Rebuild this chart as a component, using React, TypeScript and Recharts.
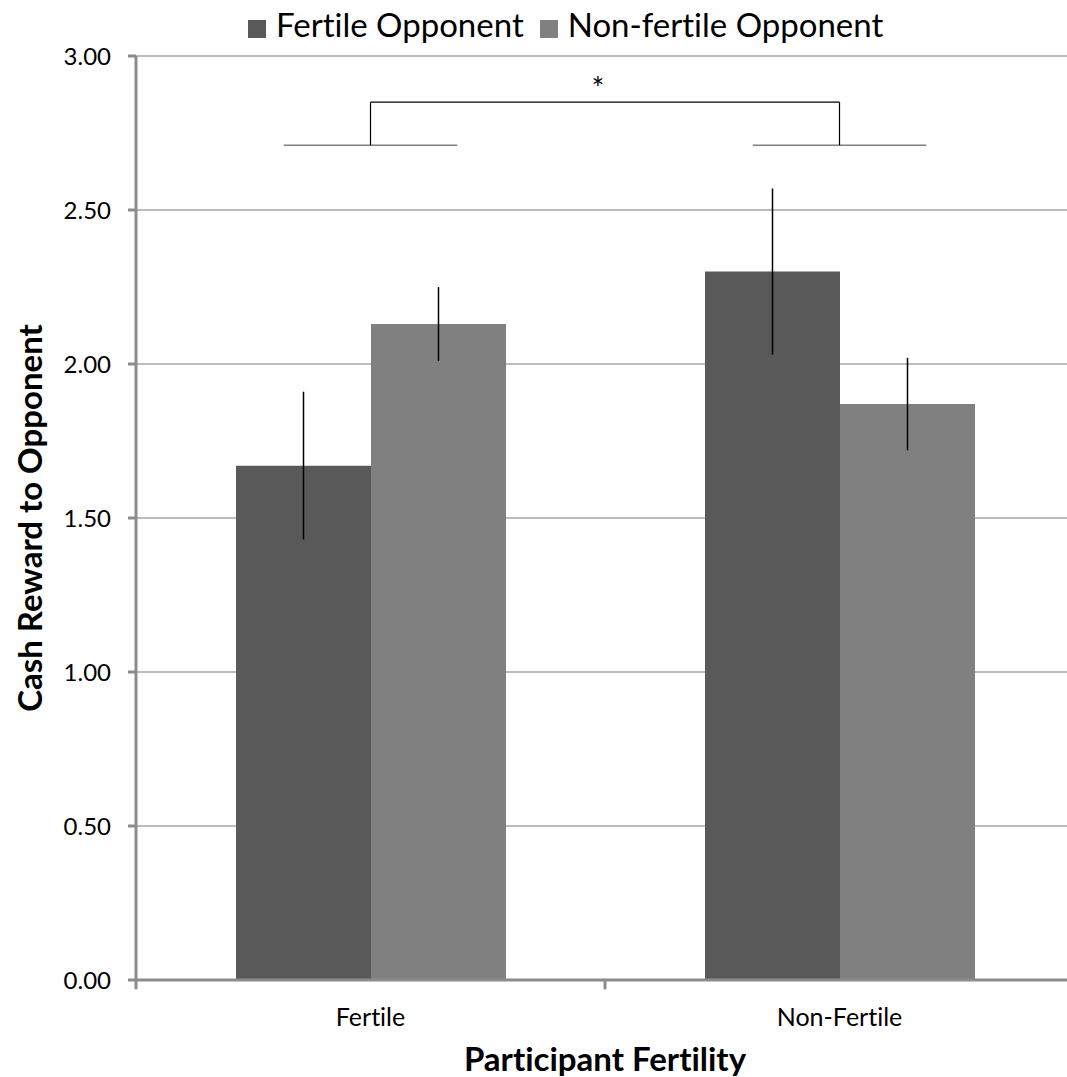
import React from 'react';
import {
  BarChart,
  Bar,
  XAxis,
  YAxis,
  CartesianGrid,
  Legend,
  ErrorBar,
  ReferenceLine,
  ReferenceDot,
} from 'recharts';

// Participant fertility groups (x categories)
const categories = ['Fertile', 'Non-Fertile'];

// Mean cash reward given to each kind of opponent, with error half-widths
const fertileOpponent = [1.67, 2.3];
const fertileOpponentErr = [0.24, 0.27];
const nonFertileOpponent = [2.13, 1.87];
const nonFertileOpponentErr = [0.12, 0.15];

const yTicks = [0, 0.5, 1, 1.5, 2, 2.5, 3];

// category boundaries on a numeric 0..2 scale (Excel-style ticks between groups)
const groupEdges = [0, 1, 2];

// significance bracket, in data units
const groupCenters = [0.5, 1.5];
const groupLineY = 2.71;
const bracketTopY = 2.85;
const groupLineHalf = 0.185;
const starX = 0.985;
const starY = 2.895;

const DARK = '#595959';
const LIGHT = '#808080';
const AXIS = '#8c8c8c';
const GRID = '#a6a6a6';

const data = categories.map((c, i) => ({
  group: c,
  pos: groupCenters[i],
  fertile: fertileOpponent[i],
  fertileErr: fertileOpponentErr[i],
  nonFertile: nonFertileOpponent[i],
  nonFertileErr: nonFertileOpponentErr[i],
}));

export default function App() {
  return (
    <div
      style={{
        position: 'fixed',
        left: 0,
        top: 0,
        width: 1067,
        height: 1077,
        overflow: 'hidden',
        background: '#fff',
        fontFamily: 'Lato, sans-serif',
        fontVariantLigatures: 'none',
      }}
    >
      <BarChart
        width={1080}
        height={1077}
        data={data}
        margin={{ top: 16, right: 6, bottom: 0, left: 0 }}
        barCategoryGap={100}
        barGap={0}
      >
        <CartesianGrid vertical={false} stroke={GRID} strokeWidth={1.5} />
        <XAxis
          xAxisId="num"
          dataKey="pos"
          type="number"
          domain={[0, 2]}
          allowDataOverflow
          hide
        />
        <XAxis
          dataKey="group"
          height={97}
          tickLine={false}
          axisLine={{ stroke: AXIS, strokeWidth: 3 }}
          tick={{ fontSize: 25, fill: '#000' }}
          tickMargin={22}
          label={{
            value: 'Participant Fertility',
            position: 'insideBottom',
            offset: 6,
            style: { fontSize: 33, fontWeight: 700, fill: '#000' },
          }}
        />
        <YAxis
          width={136}
          domain={[0, 3]}
          ticks={yTicks}
          interval={0}
          tickFormatter={(v: number) => v.toFixed(2)}
          tick={{ fontSize: 24, fill: '#000' }}
          tickSize={8}
          tickMargin={17}
          tickLine={{ stroke: AXIS, strokeWidth: 3 }}
          axisLine={{ stroke: AXIS, strokeWidth: 3 }}
          label={{
            value: 'Cash Reward to Opponent',
            angle: -90,
            position: 'center',
            dx: -38,
            style: { fontSize: 33, fontWeight: 700, fill: '#000', textAnchor: 'middle' },
          }}
        />
        <Legend
          verticalAlign="top"
          align="left"
          iconType="square"
          iconSize={18}
          wrapperStyle={{ top: 4, left: 248, width: 'auto', fontSize: 33 }}
          formatter={(v: string) => (
            <span style={{ color: '#000', marginLeft: 6, marginRight: 6 }}>{v}</span>
          )}
        />
        <Bar dataKey="fertile" name="Fertile Opponent" fill={DARK} isAnimationActive={false}>
          <ErrorBar dataKey="fertileErr" width={0} stroke="#000" strokeWidth={1.5} />
        </Bar>
        <Bar dataKey="nonFertile" name="Non-fertile Opponent" fill={LIGHT} isAnimationActive={false}>
          <ErrorBar dataKey="nonFertileErr" width={0} stroke="#000" strokeWidth={1.5} />
        </Bar>
        {groupEdges.map((e) => (
          <ReferenceLine
            key={'t' + e}
            xAxisId="num"
            ifOverflow="visible"
            segment={[
              { x: e, y: 0 },
              { x: e, y: -0.03 },
            ]}
            stroke={AXIS}
            strokeWidth={3}
          />
        ))}
        {groupCenters.map((c, i) => (
          <ReferenceLine
            key={'g' + i}
            xAxisId="num"
            ifOverflow="visible"
            segment={[
              { x: c - groupLineHalf, y: groupLineY },
              { x: c + groupLineHalf, y: groupLineY },
            ]}
            stroke="#7f7f7f"
            strokeWidth={1.5}
          />
        ))}
        {groupCenters.map((c, i) => (
          <ReferenceLine
            key={'v' + i}
            xAxisId="num"
            ifOverflow="visible"
            segment={[
              { x: c, y: groupLineY },
              { x: c, y: bracketTopY },
            ]}
            stroke="#000"
            strokeWidth={1.2}
          />
        ))}
        <ReferenceLine
          xAxisId="num"
          ifOverflow="visible"
          segment={[
            { x: groupCenters[0], y: bracketTopY },
            { x: groupCenters[1], y: bracketTopY },
          ]}
          stroke="#000"
          strokeWidth={1.2}
        />
        <ReferenceDot
          xAxisId="num"
          ifOverflow="visible"
          x={starX}
          y={starY}
          r={0}
          label={{ value: '*', position: 'center', fontSize: 30, fill: '#000' }}
        />
      </BarChart>
    </div>
  );
}
